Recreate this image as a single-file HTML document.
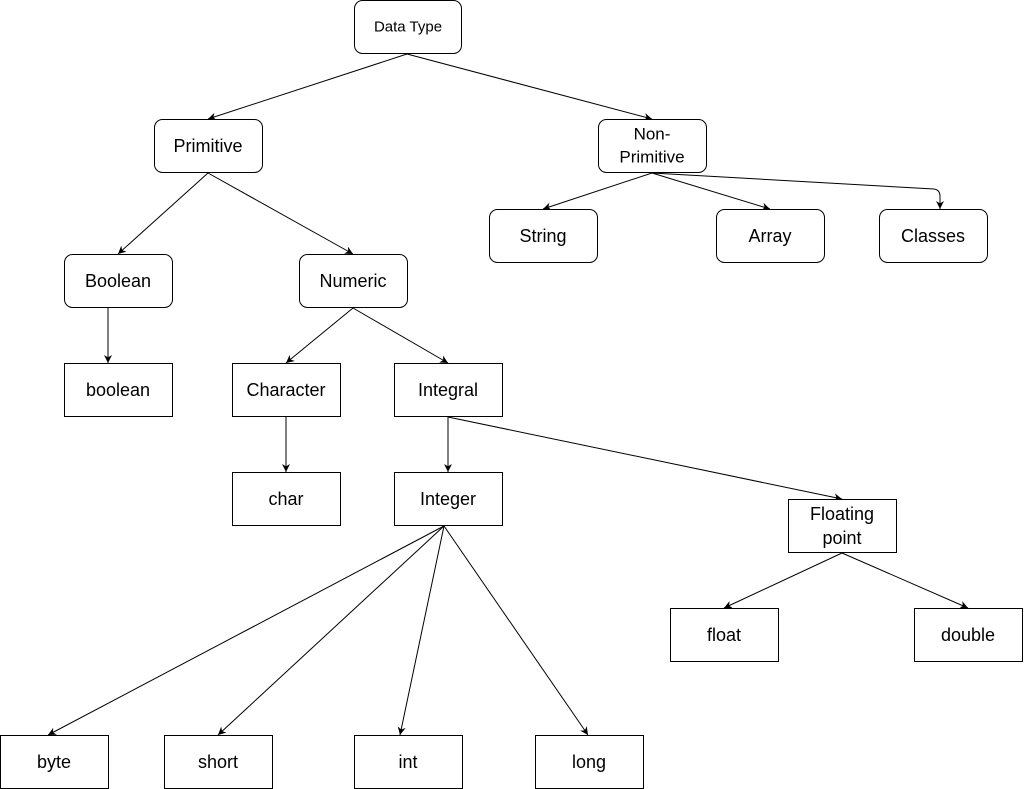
<!DOCTYPE html>
<html><head><meta charset="utf-8"><style>
html,body{margin:0;padding:0;background:#fff;}
svg{display:block;}
text{font-family:"Liberation Sans",Arial,sans-serif;font-size:18px;fill:#000;text-anchor:middle;dominant-baseline:central;}
rect{fill:#fff;stroke:#000;stroke-width:1;}
.l{stroke:#000;stroke-width:1;fill:none;marker-end:url(#a);}
</style></head><body>
<svg width="1024" height="789" viewBox="0 0 1024 789">
<defs><marker id="a" viewBox="0 0 10 10" refX="10" refY="5" markerWidth="8" markerHeight="8" orient="auto" markerUnits="userSpaceOnUse"><path d="M0,0 L10,5 L0,10 L3,5 z" fill="#000"/></marker></defs>
<line class="l" x1="407" y1="54" x2="208" y2="119"/>
<line class="l" x1="407" y1="54" x2="652" y2="119"/>
<line class="l" x1="208" y1="173" x2="118" y2="254"/>
<line class="l" x1="208" y1="173" x2="353" y2="254"/>
<line class="l" x1="652" y1="173" x2="543" y2="209"/>
<line class="l" x1="652" y1="173" x2="770" y2="209"/>
<path class="l" d="M652,173 L934,189 Q940,190 940,196 L940,209"/>
<line class="l" x1="108" y1="308" x2="108" y2="363"/>
<line class="l" x1="353" y1="308" x2="286" y2="363"/>
<line class="l" x1="353" y1="308" x2="448" y2="363"/>
<line class="l" x1="286" y1="417" x2="286" y2="472"/>
<line class="l" x1="448" y1="417" x2="448" y2="472"/>
<line class="l" x1="448" y1="417" x2="842" y2="499"/>
<line class="l" x1="444" y1="526" x2="48" y2="735"/>
<line class="l" x1="444" y1="526" x2="218" y2="735"/>
<line class="l" x1="444" y1="526" x2="400" y2="735"/>
<line class="l" x1="444" y1="526" x2="588" y2="735"/>
<line class="l" x1="842" y1="553" x2="724" y2="608"/>
<line class="l" x1="842" y1="553" x2="968" y2="608"/>

<rect x="354.5" y="0.5" width="107" height="53" rx="8"/><text x="408" y="27" style="font-size:15px">Data Type</text>
<rect x="154.5" y="119.5" width="108" height="53" rx="8"/><text x="208" y="146">Primitive</text>
<rect x="598.5" y="119.5" width="108" height="53" rx="8"/><text x="652" y="134" style="font-size:17px">Non-</text><text x="652" y="157" style="font-size:17px">Primitive</text>
<rect x="489.5" y="209.5" width="108" height="53" rx="8"/><text x="543" y="236">String</text>
<rect x="716.5" y="209.5" width="108" height="53" rx="8"/><text x="770" y="236">Array</text>
<rect x="879.5" y="209.5" width="108" height="53" rx="8"/><text x="933" y="236">Classes</text>
<rect x="64.5" y="254.5" width="108" height="53" rx="8"/><text x="118" y="281">Boolean</text>
<rect x="299.5" y="254.5" width="108" height="53" rx="8"/><text x="353" y="281">Numeric</text>
<rect x="64.5" y="363.5" width="108" height="53"/><text x="118" y="390">boolean</text>
<rect x="232.5" y="363.5" width="108" height="53"/><text x="286" y="390">Character</text>
<rect x="394.5" y="363.5" width="108" height="53"/><text x="448" y="390">Integral</text>
<rect x="232.5" y="472.5" width="108" height="53"/><text x="286" y="499">char</text>
<rect x="394.5" y="472.5" width="108" height="53"/><text x="448" y="499">Integer</text>
<rect x="788.5" y="499.5" width="108" height="53"/><text x="842" y="514">Floating</text><text x="842" y="538">point</text>
<rect x="670.5" y="608.5" width="108" height="53"/><text x="724" y="635">float</text>
<rect x="914.5" y="608.5" width="108" height="53"/><text x="968" y="635">double</text>
<rect x="0.5" y="735.5" width="108" height="53"/><text x="54" y="762">byte</text>
<rect x="164.5" y="735.5" width="108" height="53"/><text x="218" y="762">short</text>
<rect x="354.5" y="735.5" width="108" height="53"/><text x="408" y="762">int</text>
<rect x="535.5" y="735.5" width="108" height="53"/><text x="589" y="762">long</text>
</svg>
</body></html>
